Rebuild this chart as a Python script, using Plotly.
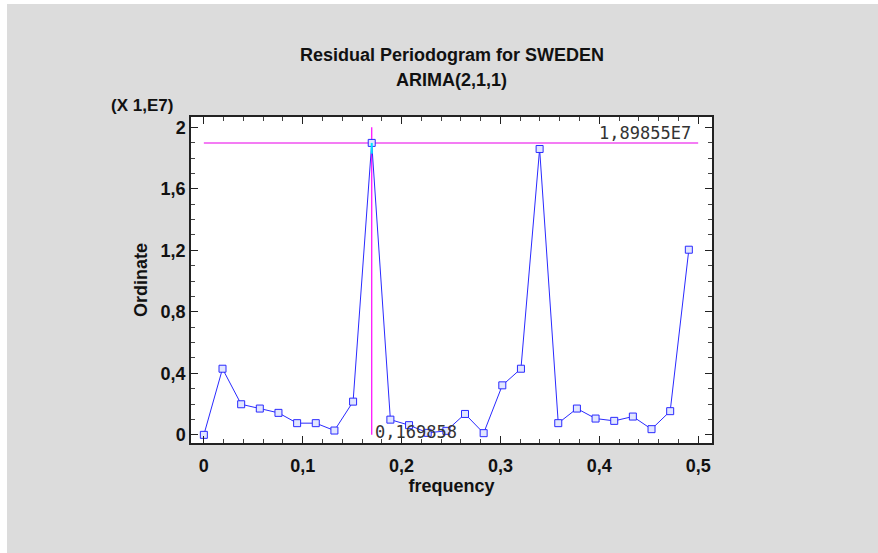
import plotly.graph_objects as go

# ---- data (ordinate in units of 1E7) ----
n_obs = 53
harmonics = list(range(27))
ordinate = [0.0, 0.43, 0.199, 0.171, 0.143, 0.076, 0.076, 0.028, 0.216, 1.89855,
            0.099, 0.063, 0.013, 0.026, 0.136, 0.011, 0.322, 0.43, 1.859, 0.076,
            0.171, 0.106, 0.091, 0.119, 0.037, 0.154, 1.204]
frequency = [k / n_obs for k in harmonics]

title_lines = ["Residual Periodogram for SWEDEN", "ARIMA(2,1,1)"]
x_title = "frequency"
y_title = "Ordinate"
scale_label = "(X 1,E7)"
peak_y_label = "1,89855E7"
peak_x_label = "0,169858"
x_ticks = [0, 0.1, 0.2, 0.3, 0.4, 0.5]
x_ticktext = ["0", "0,1", "0,2", "0,3", "0,4", "0,5"]
y_ticks = [0, 0.4, 0.8, 1.2, 1.6, 2.0]
y_ticktext = ["0", "0,4", "0,8", "1,2", "1,6", "2"]

peak_i = max(range(len(ordinate)), key=lambda i: ordinate[i])
peak_x = frequency[peak_i]
peak_y = ordinate[peak_i]

# figure is placed at page offset (7, 4); page size 878x553
W, H = 871, 549
L, R, T, B = 184, 166, 113, 110
plot_w = W - L - R
plot_h = H - T - B

BLUE = "#2a2aff"
FONT = "Liberation Sans, Arial, sans-serif"
font_bold = dict(family=FONT, size=18, color="#111111")
lcd_font = dict(family="DejaVu Sans Mono, monospace", size=17, color="#333333")

fig = go.Figure()
fig.add_trace(go.Scatter(
    x=frequency, y=ordinate, mode="lines+markers",
    line=dict(color=BLUE, width=1),
    marker=dict(symbol="square", size=7, color="rgba(225,230,255,1)",
                line=dict(color=BLUE, width=1)),
    hoverinfo="x+y", showlegend=False,
))

shapes = [
    dict(type="line", xref="x", yref="y", x0=0, x1=0.5, y0=peak_y, y1=peak_y,
         line=dict(color="#f47cf4", width=2), layer="below"),
    dict(type="line", xref="x", yref="y", x0=peak_x, x1=peak_x, y0=0, y1=2.0,
         line=dict(color="#ff00ff", width=1.2), layer="below"),
    dict(type="line", xref="x", yref="y", x0=peak_x, x1=peak_x, y0=peak_y - 0.07, y1=peak_y,
         line=dict(color="#00e5ff", width=2), layer="above"),
]

def py(page_y):
    return 1 - (page_y - 4 - T) / plot_h

def px(page_x):
    return (page_x - 7 - L) / plot_w

annotations = [
    dict(text="<b>" + title_lines[0] + "</b>", xref="paper", yref="paper",
         x=0.5, y=py(55), showarrow=False, font=font_bold,
         xanchor="center", yanchor="middle"),
    dict(text="<b>" + title_lines[1] + "</b>", xref="paper", yref="paper",
         x=0.5, y=py(80), showarrow=False, font=font_bold,
         xanchor="center", yanchor="middle"),
    dict(text="<b>" + scale_label + "</b>", xref="paper", yref="paper",
         x=px(175), y=py(106), showarrow=False,
         font=dict(family=FONT, size=17, color="#111111"),
         xanchor="right", yanchor="middle"),
    dict(text=peak_y_label, xref="x", yref="y", x=0.5, y=peak_y, showarrow=False,
         xanchor="right", yanchor="bottom", xshift=-5, yshift=-2, font=lcd_font),
    dict(text=peak_x_label, xref="x", yref="y", x=peak_x, y=0, showarrow=False,
         xanchor="left", yanchor="middle", xshift=1, yshift=3, font=lcd_font),
]

axis_common = dict(
    showgrid=False, zeroline=False, showline=True, linecolor="#222222", linewidth=1.5,
    mirror="allticks", ticks="inside", ticklen=7, tickcolor="#222222", tickwidth=1,
    tickfont=dict(family=FONT, size=18, color="#111111"),
)

fig.update_layout(
    width=W, height=H, autosize=False,
    margin=dict(l=L, r=R, t=T, b=B),
    paper_bgcolor="#dcdcdc", plot_bgcolor="white",
    shapes=shapes, annotations=annotations,
    xaxis=dict(**axis_common, range=[-0.013, 0.514],
               tickvals=x_ticks, ticktext=["<b>" + t + "</b>" for t in x_ticktext],
               ticklabelstandoff=6,
               minor=dict(ticks="inside", dtick=0.02, ticklen=4, tickcolor="#444444"),
               title=dict(text="<b>" + x_title + "</b>", font=font_bold, standoff=4)),
    yaxis=dict(**axis_common, range=[-0.053, 2.067],
               tickvals=y_ticks, ticktext=["<b>" + t + "</b>" for t in y_ticktext],
               minor=dict(ticks="inside", dtick=0.1, ticklen=4, tickcolor="#444444"),
               title=dict(text="<b>" + y_title + "</b>", font=font_bold, standoff=8)),
)

fig.write_html("out.html",
               post_script="document.body.style.margin='4px 0 0 7px';document.body.style.background='white';")
